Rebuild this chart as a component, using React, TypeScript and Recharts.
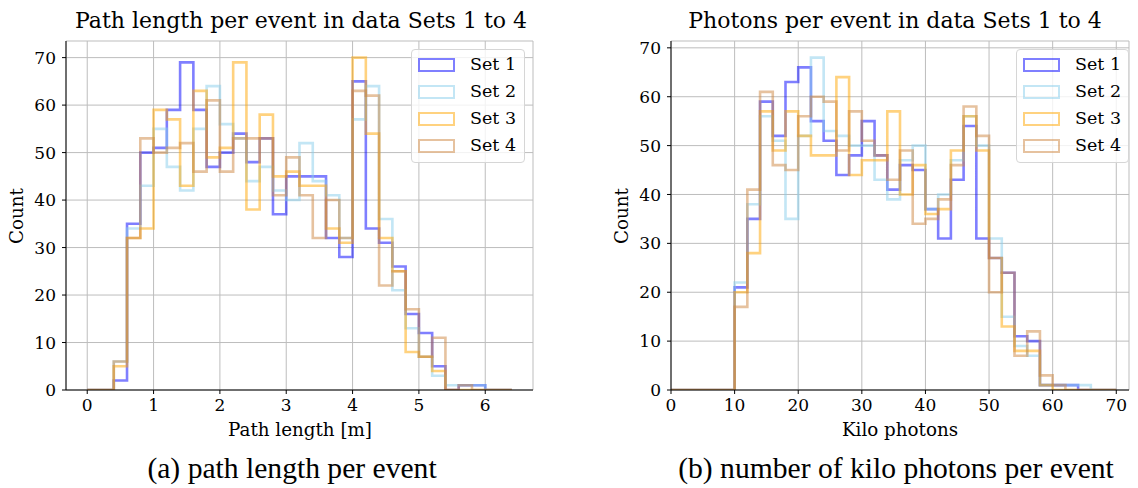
import React from 'react';
import { LineChart, Line, XAxis, YAxis, CartesianGrid } from 'recharts';

// ---- Data: path length histogram (bins of 0.2 m from 0 to 6.4) ----
const PATH_BIN_START = 0;
const PATH_BIN_WIDTH = 0.2;
const pathSet1 = [0, 0, 2, 35, 50, 51, 59, 69, 59, 47, 50, 54, 48, 53, 37, 45, 45, 45, 32, 28, 65, 34, 31, 26, 16, 12, 5, 0, 1, 1, 0, 0];
const pathSet2 = [0, 0, 6, 34, 43, 55, 47, 42, 55, 64, 56, 53, 44, 47, 42, 40, 52, 44, 41, 32, 57, 64, 36, 21, 13, 7, 3, 1, 1, 1, 0, 0];
const pathSet3 = [0, 0, 5, 32, 34, 59, 57, 43, 63, 49, 51, 69, 38, 58, 45, 46, 43, 43, 34, 31, 70, 54, 32, 25, 8, 7, 4, 0, 0, 0, 0, 0];
const pathSet4 = [0, 0, 6, 32, 53, 50, 51, 52, 46, 61, 46, 53, 53, 53, 41, 49, 41, 32, 40, 32, 63, 62, 22, 25, 17, 7, 11, 0, 1, 0, 0, 0];

// ---- Data: kilo photons histogram (bins of 2 from 0 to 70) ----
const PHOTON_BIN_START = 0;
const PHOTON_BIN_WIDTH = 2;
const photonSet1 = [0, 0, 0, 0, 0, 21, 35, 59, 52, 63, 66, 55, 51, 44, 48, 55, 48, 41, 46, 45, 37, 31, 43, 54, 31, 27, 24, 11, 10, 1, 1, 1, 0, 0, 0];
const photonSet2 = [0, 0, 0, 0, 0, 22, 38, 56, 51, 35, 52, 68, 53, 52, 50, 50, 43, 39, 47, 50, 37, 40, 47, 56, 50, 31, 15, 9, 7, 1, 1, 1, 1, 0, 0];
const photonSet3 = [0, 0, 0, 0, 0, 20, 28, 57, 49, 57, 52, 48, 48, 64, 44, 47, 47, 57, 40, 46, 36, 37, 49, 56, 49, 27, 13, 8, 8, 1, 0, 0, 0, 0, 0];
const photonSet4 = [0, 0, 0, 0, 0, 17, 41, 61, 46, 45, 56, 60, 59, 49, 57, 51, 48, 43, 49, 34, 35, 39, 46, 58, 52, 20, 24, 7, 12, 3, 1, 0, 0, 0, 0];

const PATH_X_TICKS = [0, 1, 2, 3, 4, 5, 6];
const PATH_Y_TICKS = [0, 10, 20, 30, 40, 50, 60, 70];
const PHOTON_X_TICKS = [0, 10, 20, 30, 40, 50, 60, 70];
const PHOTON_Y_TICKS = [0, 10, 20, 30, 40, 50, 60, 70];

const SET_NAMES = ['Set 1', 'Set 2', 'Set 3', 'Set 4'];
const SET_COLORS = ['#0000ff', '#87ceeb', '#ffa500', '#cd853f'];
const SET_KEYS = ['s1', 's2', 's3', 's4'];

const SERIF = '"DejaVu Serif", serif';
const CAPTION_FONT = '"Liberation Serif", serif';

function buildSteps(start: number, width: number, sets: number[][]) {
  const n = sets[0].length;
  const rows: any[] = [];
  for (let i = 0; i <= n; i++) {
    const row: any = { x: +(start + i * width).toFixed(4) };
    sets.forEach((s, k) => {
      row[SET_KEYS[k]] = i < n ? s[i] : s[n - 1];
    });
    rows.push(row);
  }
  return rows;
}

const pathData = buildSteps(PATH_BIN_START, PATH_BIN_WIDTH, [pathSet1, pathSet2, pathSet3, pathSet4]);
const photonData = buildSteps(PHOTON_BIN_START, PHOTON_BIN_WIDTH, [photonSet1, photonSet2, photonSet3, photonSet4]);

const tickStyle = { fontFamily: SERIF, fontSize: 17, fill: '#000' };

function Hist(props: any) {
  const { data, xDomain, xTicks, yDomain, yTicks, width, height, margin } = props;
  return (
    <LineChart width={width} height={height} data={data} margin={margin}>
      <CartesianGrid stroke="#bdbdbd" strokeWidth={1} />
      <XAxis
        dataKey="x"
        type="number"
        domain={xDomain}
        ticks={xTicks}
        allowDataOverflow
        interval={0}
        tick={tickStyle}
        tickSize={4}
        tickMargin={5}
        tickLine={{ stroke: '#000' }}
        axisLine={{ stroke: '#000', strokeWidth: 1 }}
        height={30}
      />
      <XAxis
        xAxisId="top"
        orientation="top"
        type="number"
        domain={xDomain}
        allowDataOverflow
        tick={false}
        tickLine={false}
        axisLine={{ stroke: '#000', strokeWidth: 1 }}
        height={0}
      />
      <YAxis
        type="number"
        domain={yDomain}
        ticks={yTicks}
        allowDataOverflow
        interval={0}
        tick={tickStyle}
        tickSize={4}
        tickMargin={6}
        tickLine={{ stroke: '#000' }}
        axisLine={{ stroke: '#000', strokeWidth: 1 }}
        width={40}
      />
      <YAxis
        yAxisId="right"
        orientation="right"
        type="number"
        domain={yDomain}
        allowDataOverflow
        tick={false}
        tickLine={false}
        axisLine={{ stroke: '#000', strokeWidth: 1 }}
        width={0}
      />
      {SET_KEYS.map((k, i) => (
        <Line
          key={k}
          type="stepAfter"
          dataKey={k}
          stroke={SET_COLORS[i]}
          strokeOpacity={0.5}
          strokeWidth={2.6}
          dot={false}
          activeDot={false}
          isAnimationActive={false}
        />
      ))}
    </LineChart>
  );
}

function LegendBox(props: any) {
  const { left, top, width, height, patchLeft, textLeft } = props;
  return (
    <div
      style={{
        position: 'absolute',
        left,
        top,
        width,
        height,
        boxSizing: 'border-box',
        border: '1px solid #d6d6d6',
        borderRadius: 4,
        background: 'rgba(255,255,255,0.8)',
      }}
    >
      {SET_NAMES.map((name, i) => (
        <React.Fragment key={name}>
          <div
            style={{
              position: 'absolute',
              left: patchLeft,
              top: 8 + 27 * i,
              width: 37,
              height: 14,
              boxSizing: 'border-box',
              border: `2.6px solid ${SET_COLORS[i]}`,
              opacity: 0.5,
            }}
          />
          <div
            style={{
              position: 'absolute',
              left: textLeft,
              top: 15 + 27 * i,
              transform: 'translateY(-50%)',
              fontFamily: SERIF,
              fontSize: 17.5,
              whiteSpace: 'nowrap',
              lineHeight: 1,
            }}
          >
            {name}
          </div>
        </React.Fragment>
      ))}
    </div>
  );
}

function Text(props: any) {
  const { x, y, children, size, font, rotate } = props;
  return (
    <div
      style={{
        position: 'absolute',
        left: x,
        top: y,
        transform: `translate(-50%, -50%)${rotate ? ` rotate(${rotate}deg)` : ''}`,
        fontFamily: font || SERIF,
        fontSize: size,
        whiteSpace: 'nowrap',
        lineHeight: 1,
        color: '#000',
      }}
    >
      {children}
    </div>
  );
}

export default function App() {
  return (
    <div style={{ position: 'absolute', left: 0, top: 0, width: 1138, height: 488, background: '#fff', overflow: 'hidden' }}>
      <div style={{ position: 'absolute', left: 0, top: 0 }}>
        <Hist
          data={pathData}
          xDomain={[-0.32, 6.72]}
          xTicks={PATH_X_TICKS}
          yDomain={[0, 73.5]}
          yTicks={PATH_Y_TICKS}
          width={569}
          height={430}
          margin={{ top: 41, right: 36, bottom: 10, left: 26 }}
        />
      </div>
      <div style={{ position: 'absolute', left: 600, top: 0 }}>
        <Hist
          data={photonData}
          xDomain={[0, 72]}
          xTicks={PHOTON_X_TICKS}
          yDomain={[0, 71.4]}
          yTicks={PHOTON_Y_TICKS}
          width={538}
          height={430}
          margin={{ top: 41, right: 9, bottom: 10, left: 31 }}
        />
      </div>

      <LegendBox left={411} top={49} width={114} height={114} patchLeft={6} textLeft={58} />
      <LegendBox left={1016} top={49} width={113} height={114} patchLeft={6} textLeft={58} />

      <Text x={301} y={21} size={22}>Path length per event in data Sets 1 to 4</Text>
      <Text x={895} y={21} size={22}>Photons per event in data Sets 1 to 4</Text>

      <Text x={300} y={430} size={18.3}>Path length [m]</Text>
      <Text x={900} y={430} size={18.3}>Kilo photons</Text>

      <Text x={17} y={216} size={18.3} rotate={-90}>Count</Text>
      <Text x={622} y={216} size={18.3} rotate={-90}>Count</Text>

      <Text x={292} y={469} size={29.6} font={CAPTION_FONT}>(a) path length per event</Text>
      <Text x={896} y={469} size={29.6} font={CAPTION_FONT}>(b) number of kilo photons per event</Text>
    </div>
  );
}
